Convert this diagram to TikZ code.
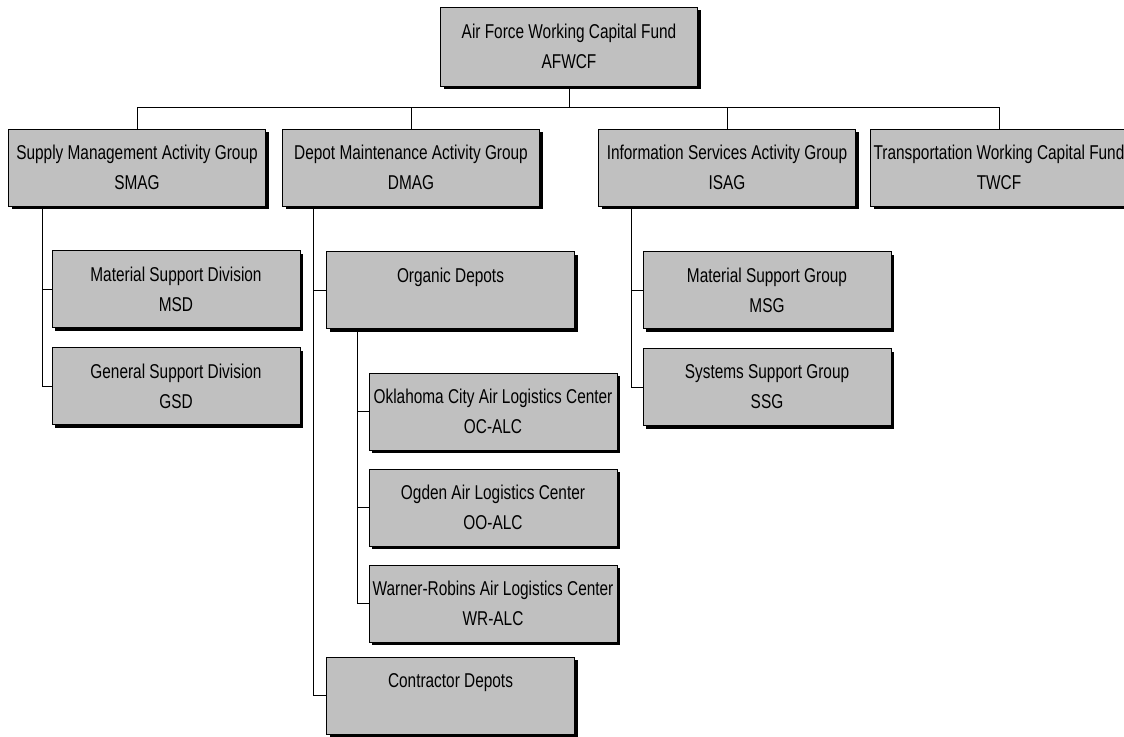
\documentclass[tikz,border=0pt]{standalone}
\usepackage{fontspec}
\setmainfont{Liberation Sans}[FakeStretch=0.77]
\usepackage{xcolor}
\definecolor{boxgray}{HTML}{C0C0C0}
\usepackage{tikz}
\usetikzlibrary{positioning,shadows}

\begin{document}
\begin{tikzpicture}[
  x=1pt,y=-1pt,
  unit/.style={draw=black,line width=1pt,fill=boxgray,align=center,inner sep=0pt,
    minimum height=77pt,font=\fontsize{20}{30}\selectfont,
    drop shadow={shadow xshift=3pt,shadow yshift=-3pt,fill=black,opacity=1}},
  topbox/.style={unit,minimum width=257pt},
  subbox/.style={unit,minimum width=248pt},
  link/.style={draw=black,line width=1pt}
]
\useasboundingbox (0,0) rectangle (1124,736);
% fund and activity groups
\node[topbox,minimum height=79pt] (afwcf) at (569,46.5) {Air Force Working Capital Fund\\AFWCF};
\node[topbox] (smag) at (137,167.5) {Supply Management Activity Group\\SMAG};
\node[topbox] (dmag) at (411,167.5) {Depot Maintenance Activity Group\\DMAG};
\node[topbox] (isag) at (727,167.5) {Information Services Activity Group\\ISAG};
\node[topbox] (twcf) at (999,167.5) {Transportation Working Capital Fund\\TWCF};
% divisions and groups
\node[subbox] (msd) at (176,289) {Material Support Division\\MSD};
\node[subbox,below=19pt of msd] (gsd) {General Support Division\\GSD};
\node[subbox] (organic) at (450.5,290) {Organic Depots\\\phantom{D}};
\node[subbox] (okc) at (493,411.5) {Oklahoma City Air Logistics Center\\OC-ALC};
\node[subbox,below=18pt of okc] (ogden) {Ogden Air Logistics Center\\OO-ALC};
\node[subbox,below=18pt of ogden] (wr) {Warner-Robins Air Logistics Center\\WR-ALC};
\node[subbox] (contractor) at (450.5,695.5) {Contractor Depots\\\phantom{D}};
\node[subbox] (msg) at (767,290) {Material Support Group\\MSG};
\node[subbox,below=19pt of msg] (ssg) {Systems Support Group\\SSG};
% connectors
\foreach \grp in {smag,dmag,isag,twcf}
  \draw[link] (afwcf.south) -- ++(0,21) -| (\grp.north);
\foreach \kid in {msd,gsd}
  \draw[link] ([xshift=34pt]smag.south west) |- (\kid.west);
\foreach \kid in {organic,contractor}
  \draw[link] ([xshift=31pt]dmag.south west) |- (\kid.west);
\foreach \kid in {okc,ogden,wr}
  \draw[link] ([xshift=31pt]organic.south west) |- (\kid.west);
\foreach \kid in {msg,ssg}
  \draw[link] ([xshift=33pt]isag.south west) |- (\kid.west);
\end{tikzpicture}
\end{document}
